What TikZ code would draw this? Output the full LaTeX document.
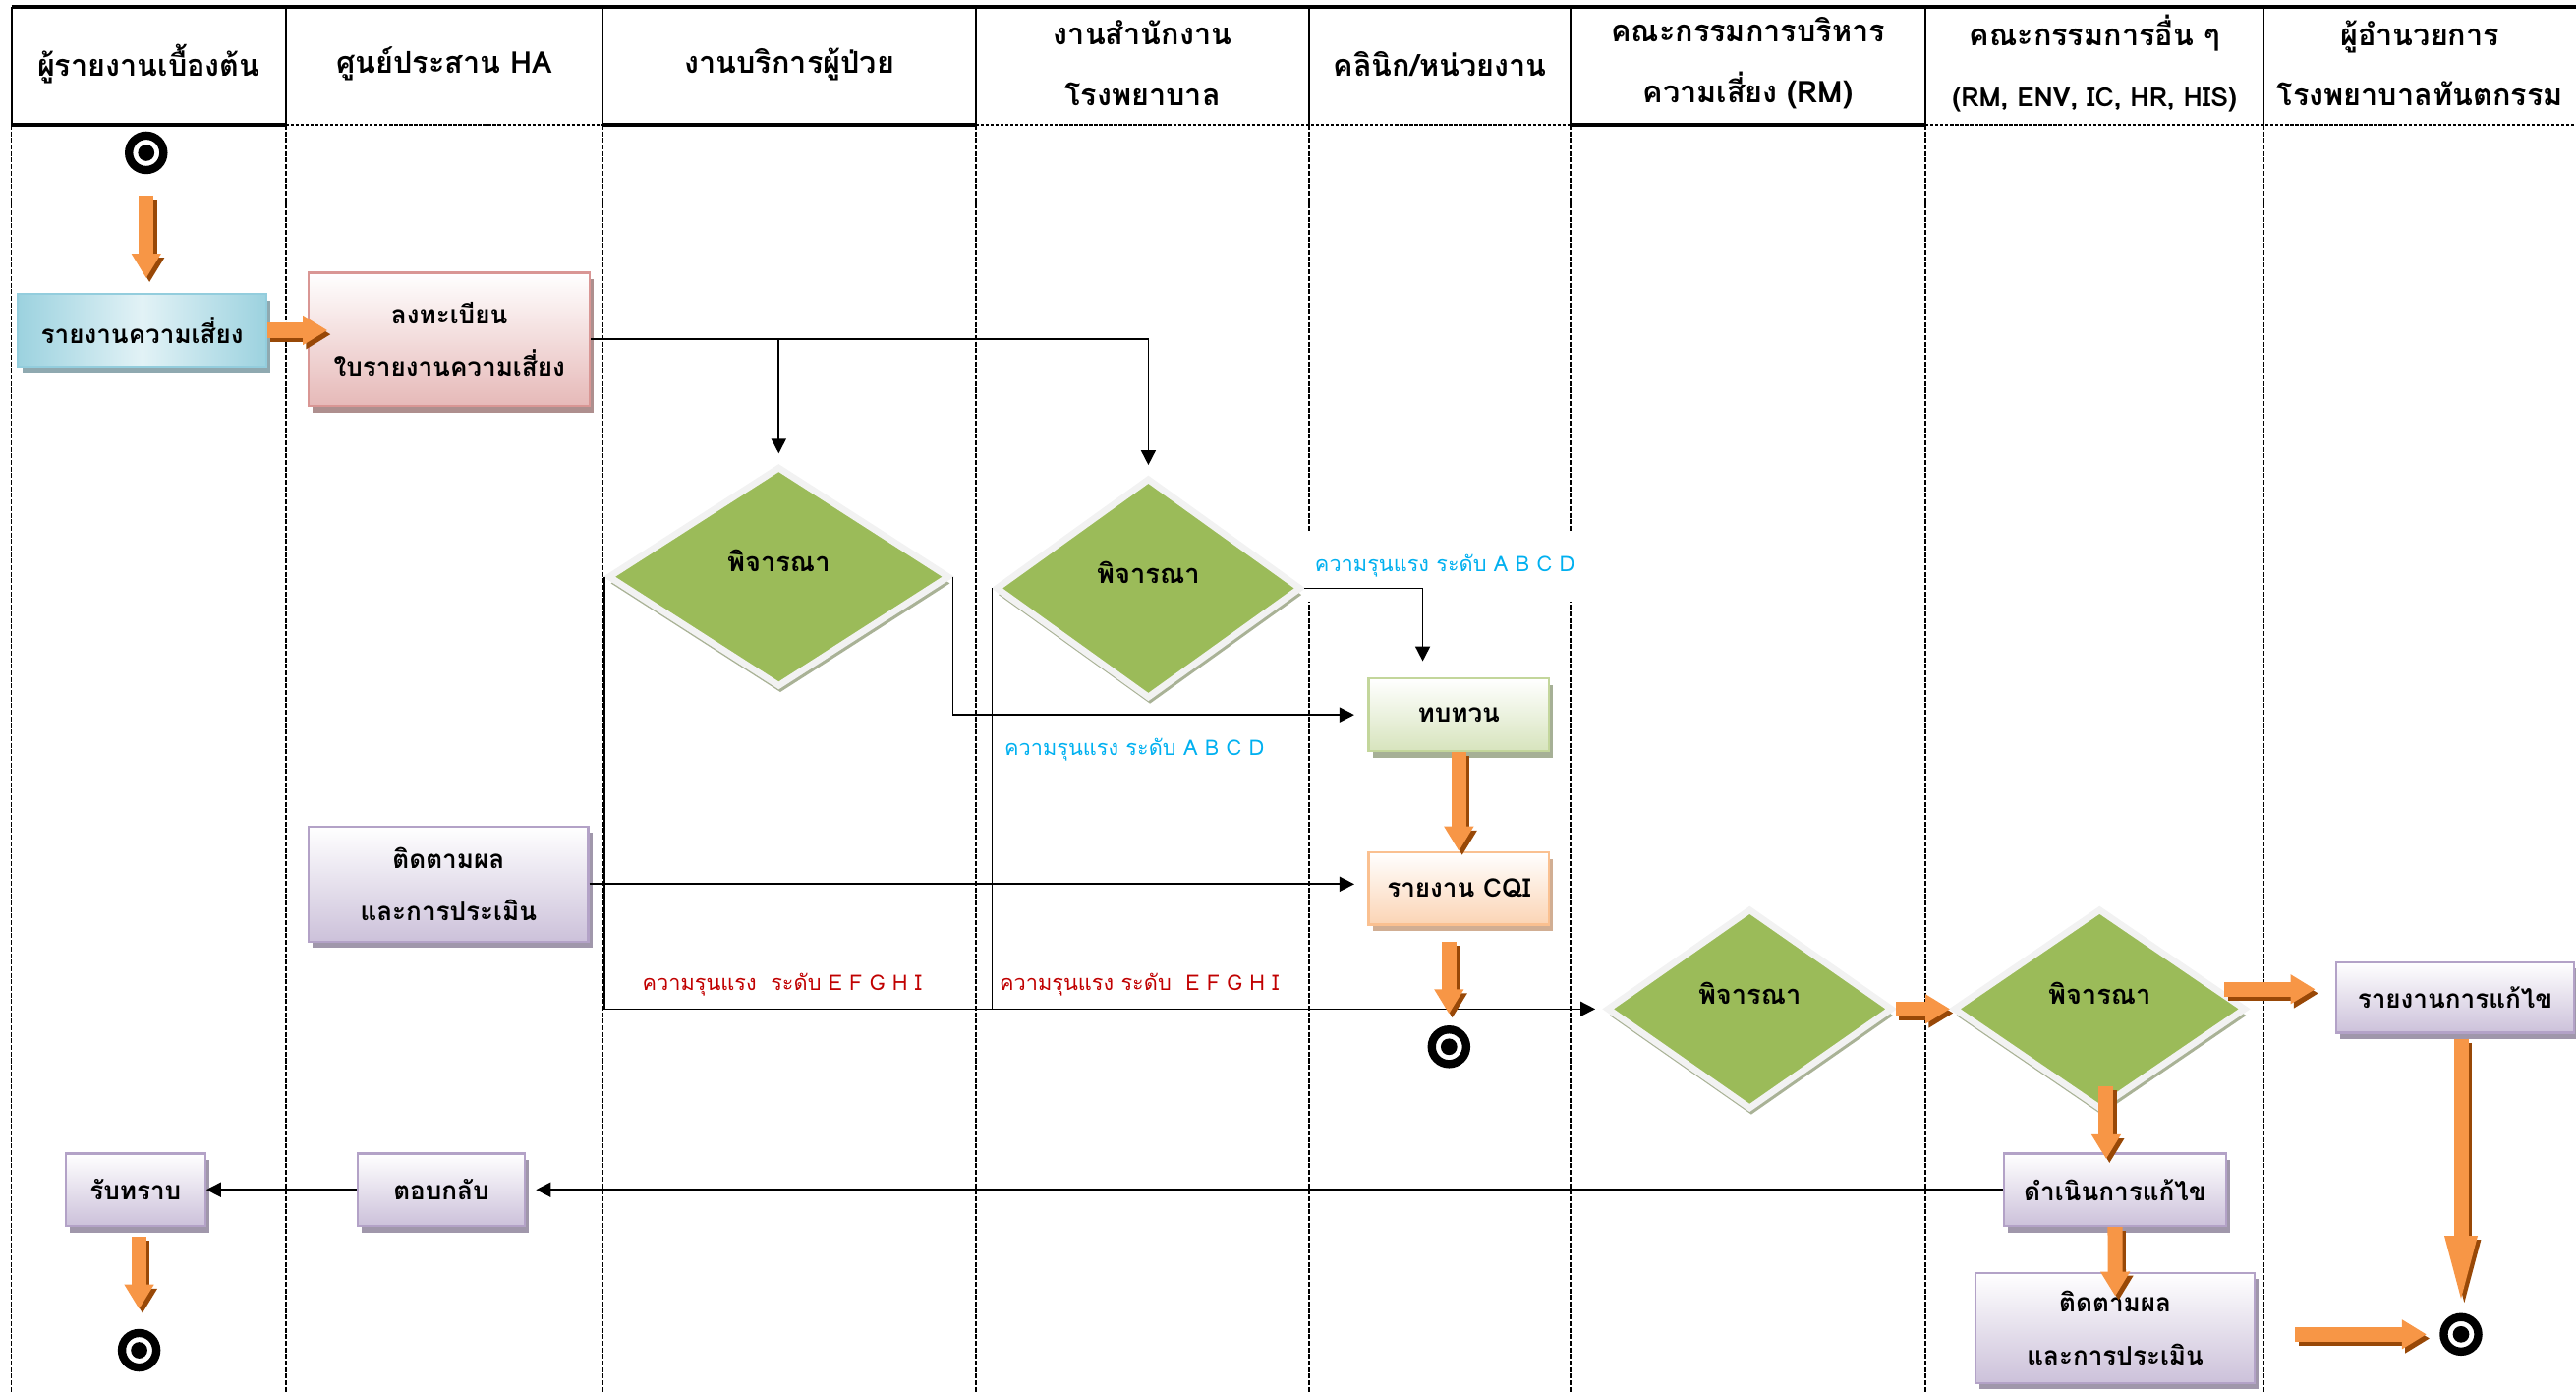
\documentclass[tikz,border=0pt]{standalone}
\usepackage{fontspec}
\setmainfont[Script=Thai]{Loma}
\usetikzlibrary{shapes.geometric,arrows.meta,shadows}

\definecolor{flowor}{HTML}{F79646}
\definecolor{flowsh}{HTML}{984807}
\definecolor{dgreen}{HTML}{9BBB59}
\definecolor{dedge}{HTML}{F2F2F2}
\definecolor{dshadow}{HTML}{A9B296}
\definecolor{blueL}{HTML}{E2F2F6}
\definecolor{blueD}{HTML}{9CD2DF}
\definecolor{blueE}{HTML}{93CDDD}
\definecolor{blueS}{HTML}{8FA9B0}
\definecolor{pinkD}{HTML}{E6B9B8}
\definecolor{pinkE}{HTML}{D99694}
\definecolor{pinkS}{HTML}{AE8F8E}
\definecolor{greenD}{HTML}{D7E4BD}
\definecolor{greenE}{HTML}{C3D69B}
\definecolor{greenS}{HTML}{A6B096}
\definecolor{orD}{HTML}{FBD4B4}
\definecolor{orE}{HTML}{FAC090}
\definecolor{orS}{HTML}{D1AE93}
\definecolor{purD}{HTML}{CCC1DA}
\definecolor{purE}{HTML}{B3A2C7}
\definecolor{purS}{HTML}{A097AB}
\definecolor{sevblue}{HTML}{00B0F0}
\definecolor{sevred}{HTML}{C00000}

\tikzset{
  headtext/.style={font=\fontsize{18.3}{37}\selectfont\bfseries, align=center, inner sep=0pt},
  taskbox/.style={draw=#1E, line width=1.3pt, top color=white, bottom color=#1D,
    align=center, inner sep=2pt, font=\fontsize{15.6}{32}\selectfont\bfseries,
    drop shadow={shadow xshift=2.5pt, shadow yshift=-4pt, fill=#1S, opacity=1}},
  reportbox/.style={taskbox=blue, left color=blueD, right color=blueD, middle color=blueL},
  decision/.style={diamond, fill=dgreen, draw=dedge, line width=4pt, inner sep=0pt,
    font=\fontsize{16.3}{18}\selectfont\bfseries, text height=12pt, text depth=18pt,
    drop shadow={shadow xshift=1pt, shadow yshift=-4pt, fill=dshadow, opacity=1}},
  endpoint/.style={circle, draw=black, line width=5pt, fill=white, minimum size=21pt, inner sep=0pt,
    path picture={\fill[black] (path picture bounding box.center) circle (5pt);}},
  sevlabel/.style={font=\fontsize{13}{15}\selectfont, inner sep=1pt},
  link/.style={draw=black, line width=1pt, -{Triangle[length=9pt,width=9pt]}},
  plain/.style={draw=black, line width=1pt},
  flow/.style={draw=flowor, line width=9pt, -{Triangle[length=#1,width=17pt]},
    preaction={draw=flowsh, line width=9pt, -{Triangle[length=#1,width=17pt]},
      transform canvas={shift={(2pt,-2.5pt)}}}},
  flow/.default=15pt
}

\begin{document}
\begin{tikzpicture}[x=1pt, y=-1pt]
  \useasboundingbox (0,0) rectangle (1568,848);

  % swim lanes
  \draw[line width=2.5pt] (7,4) -- (1568,4);
  \foreach \x in {7,174,367,594,797,956,1172,1378} {
    \draw[line width=1pt] (\x,4) -- (\x,76);
    \draw[line width=0.9pt, dash pattern=on 3pt off 1pt] (\x,76) -- (\x,848);
  }
  \draw[line width=2pt] (7,76) -- (174,76) (367,76) -- (594,76) (956,76) -- (1172,76);
  \draw[line width=1.2pt, dash pattern=on 2pt off 1pt] (174,76) -- (367,76) (594,76) -- (956,76) (1172,76) -- (1568,76);

  % lane titles
  \node[headtext] (hreporter) at (90.5,39) {ผู้รายงานเบื้องต้น};
  \node[headtext] (hcenter) at (270.5,39) {ศูนย์ประสาน HA};
  \node[headtext] (hservice) at (480.5,39) {งานบริการผู้ป่วย};
  \node[headtext] (hoffice) at (695.5,38.5) {งานสำนักงาน\\โรงพยาบาล};
  \node[headtext] (hclinic) at (876.5,39) {คลินิก/หน่วยงาน};
  \node[headtext] (hrm) at (1064,38.5) {คณะกรรมการบริหาร\\ความเสี่ยง (RM)};
  \node[headtext] (hcomm) at (1275,38.5) {คณะกรรมการอื่น ๆ\\{\fontsize{16}{37}\selectfont(RM, ENV, IC, HR, HIS)}};
  \node[headtext] (hdir) at (1473,38.5) {ผู้อำนวยการ\\โรงพยาบาลทันตกรรม};

  % severity labels
  \node[sevlabel, text=sevblue, fill=white, minimum width=169pt, minimum height=43pt] (abcdtop) at (879.5,344.5) {ความรุนแรง ระดับ A B C D};
  \node[sevlabel, text=sevblue] (abcdmid) at (690.5,456) {ความรุนแรง ระดับ A B C D};
  \node[sevlabel, text=sevred] (efghileft) at (476,599) {ความรุนแรง~~ระดับ E F G H I};
  \node[sevlabel, text=sevred] (efghiright) at (693.5,599) {ความรุนแรง ระดับ~~E F G H I};

  % steps
  \node[endpoint] (start) at (89,93) {};
  \node[reportbox, minimum width=151pt, minimum height=44pt] (report) at (86.5,201) {รายงานความเสี่ยง};
  \node[taskbox=pink, minimum width=171pt, minimum height=81pt] (register) at (273.5,206.5) {ลงทะเบียน\\ใบรายงานความเสี่ยง};
  \node[decision, minimum width=208pt, minimum height=134pt] (judge1) at (474,351) {พิจารณา};
  \node[decision, minimum width=186pt, minimum height=134pt] (judge2) at (699,358) {พิจารณา};
  \node[taskbox=green, minimum width=110pt, minimum height=44pt] (review) at (888,435) {ทบทวน};
  \node[taskbox=or, minimum width=110pt, minimum height=44pt] (cqi) at (888,540.6) {รายงาน CQI};
  \node[endpoint] (endcqi) at (882,637) {};
  \node[taskbox=pur, minimum width=170pt, minimum height=70pt] (follow) at (273,538) {ติดตามผล\\และการประเมิน};
  \node[decision, minimum width=174pt, minimum height=122pt] (judge3) at (1065,614) {พิจารณา};
  \node[decision, minimum width=178pt, minimum height=122pt] (judge4) at (1278,614) {พิจารณา};
  \node[taskbox=pur, minimum width=145pt, minimum height=43pt] (fixreport) at (1494.4,607) {รายงานการแก้ไข};
  \node[taskbox=pur, minimum width=135pt, minimum height=44pt] (fixing) at (1287.4,724) {ดำเนินการแก้ไข};
  \node[taskbox=pur, minimum width=170pt, minimum height=67pt] (follow2) at (1287.5,808) {ติดตามผล\\และการประเมิน};
  \node[endpoint] (enddir) at (1498,812) {};
  \node[taskbox=pur, minimum width=102pt, minimum height=44pt] (reply) at (268.6,724) {ตอบกลับ};
  \node[taskbox=pur, minimum width=85pt, minimum height=44pt] (ack) at (82.4,724) {รับทราบ};
  \node[endpoint] (endack) at (84.7,821.7) {};
  \coordinate (judge4out) at (1354,602);
  \coordinate (judge4down) at (1282,661);

  % black connectors
  \draw[link, shorten >=6pt] (register.east) -| (judge2.north);
  \draw[link, shorten >=6pt] (judge1.north |- register.east) -- (judge1.north);
  \draw[link, shorten >=10pt] (judge2.east) -| ([xshift=-22pt]review.north);
  \draw[link, shorten >=8pt] (judge1.east) |- (review.west);
  \draw[link, shorten >=5pt] (judge1.west) |- (judge3.west);
  \draw[plain] (judge2.west) -- (judge2.west |- judge3.west);
  \draw[link, shorten >=8pt] (follow.east) -- (follow.east -| cqi.west);
  \draw[link, shorten >=6pt] (fixing.west) -- (fixing.west -| reply.east);
  \draw[link] (reply.west) -- (ack.east);

  % orange flow arrows
  \draw[flow, shorten <=13pt, shorten >=9pt] (start) -- (start |- report.north);
  \draw[flow, shorten >=-12pt] (report.east) -- (report.east -| register.west);
  \draw[flow] (review) -- (cqi);
  \draw[flow, shorten <=10pt, shorten >=7pt] (endcqi |- cqi.south) -- (endcqi);
  \draw[flow] (judge3) -- (judge4);
  \draw[flow, shorten >=12pt] (judge4out) -- (judge4out -| fixreport.west);
  \draw[flow, shorten >=-4pt] (judge4down) -- (judge4down |- fixing.north);
  \draw[flow, shorten >=-15pt] (fixing.south) -- (follow2.north);
  \draw[flow=45pt, shorten <=3pt, shorten >=2pt] (enddir |- fixreport.south) -- (enddir);
  \draw[flow, shorten <=24pt, shorten >=8pt] (follow2.east |- enddir) -- (enddir);
  \draw[flow, shorten <=6pt, shorten >=12pt] (endack |- ack.south) -- (endack);
\end{tikzpicture}
\end{document}
